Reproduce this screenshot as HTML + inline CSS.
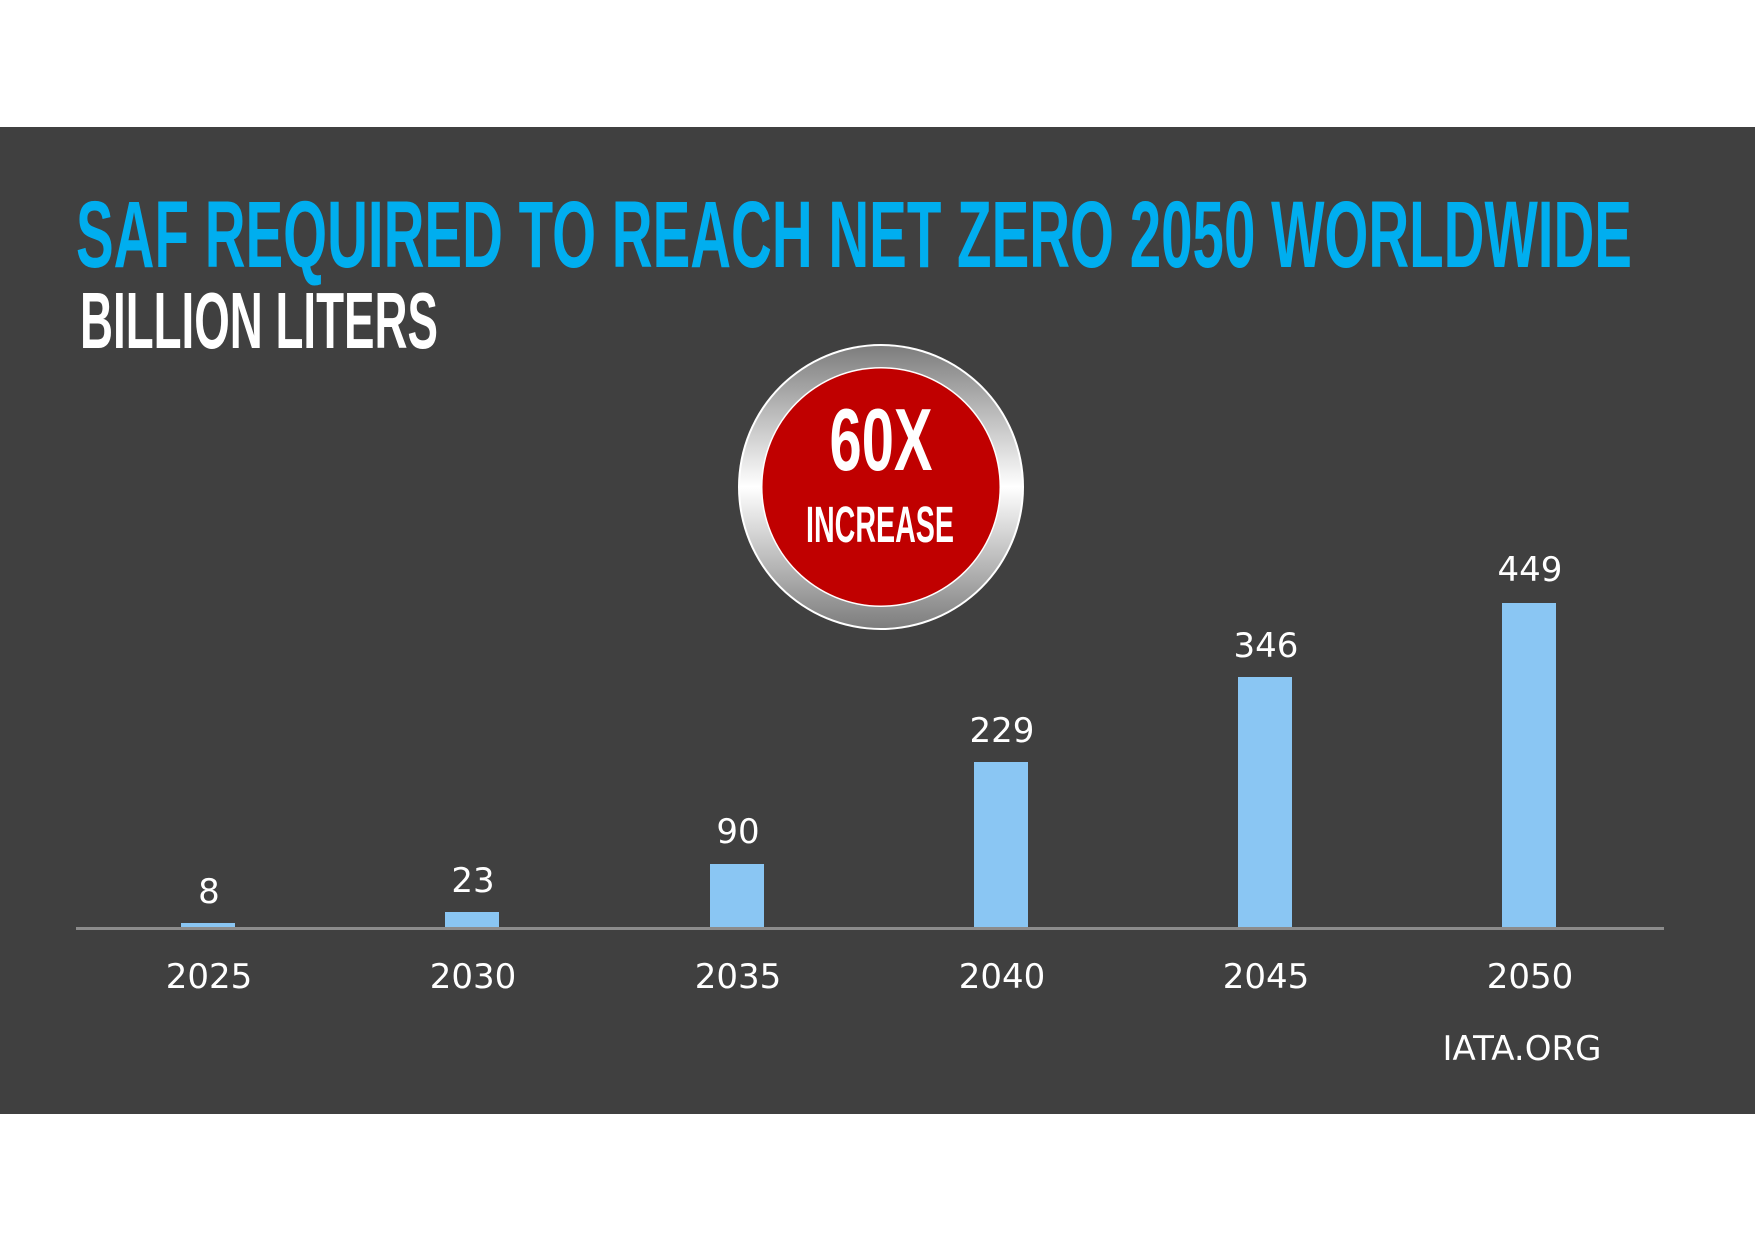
<!DOCTYPE html>
<html><head><meta charset="utf-8"><style>
html,body{margin:0;padding:0;background:#fff;}
svg{display:block;}
</style></head><body>
<svg width="1755" height="1241" viewBox="0 0 1755 1241" xmlns="http://www.w3.org/2000/svg">
<defs>
<linearGradient id="ring" x1="0" y1="0" x2="0" y2="1">
<stop offset="0" stop-color="#7d7d7d"/>
<stop offset="0.5" stop-color="#ffffff"/>
<stop offset="1" stop-color="#7d7d7d"/>
</linearGradient>
</defs>
<rect x="0" y="0" width="1755" height="1241" fill="#ffffff"/>
<rect x="0" y="127" width="1755" height="987" fill="#404040"/>
<text x="76" y="267" font-family="'Liberation Sans Narrow','Liberation Sans',sans-serif" font-weight="bold" font-size="95" fill="#00aeef" textLength="1556" lengthAdjust="spacingAndGlyphs">SAF REQUIRED TO REACH NET ZERO 2050 WORLDWIDE</text>
<text x="80" y="348" font-family="'Liberation Sans Narrow','Liberation Sans',sans-serif" font-weight="bold" font-size="80" fill="#ffffff" textLength="358" lengthAdjust="spacingAndGlyphs">BILLION LITERS</text>
<circle cx="881" cy="487" r="143" fill="#ffffff"/>
<circle cx="881" cy="487" r="141" fill="url(#ring)"/>
<circle cx="881" cy="487" r="120" fill="#ffffff"/>
<circle cx="881" cy="487" r="118.5" fill="#c00000"/>
<text x="881" y="470" text-anchor="middle" font-family="'Liberation Sans Narrow','Liberation Sans',sans-serif" font-weight="bold" font-size="88" fill="#ffffff" textLength="103" lengthAdjust="spacingAndGlyphs">60X</text>
<text x="880" y="542" text-anchor="middle" font-family="'Liberation Sans Narrow','Liberation Sans',sans-serif" font-weight="bold" font-size="51" fill="#ffffff" textLength="148" lengthAdjust="spacingAndGlyphs">INCREASE</text>
<g fill="#8ac6f3">
<rect x="181" y="923" width="54" height="5"/>
<rect x="445" y="912" width="54" height="16"/>
<rect x="710" y="864" width="54" height="64"/>
<rect x="974" y="762" width="54" height="166"/>
<rect x="1238" y="677" width="54" height="251"/>
<rect x="1502" y="603" width="54" height="325"/>
</g>
<rect x="76" y="927" width="1588" height="3" fill="#8c8c8c"/>
<g font-family="'DejaVu Sans','Liberation Sans',sans-serif" font-size="34" fill="#ffffff" text-anchor="middle">
<text x="209" y="903">8</text>
<text x="473" y="892">23</text>
<text x="738" y="843">90</text>
<text x="1002" y="742">229</text>
<text x="1266" y="657">346</text>
<text x="1530" y="581">449</text>
<text x="209" y="988">2025</text>
<text x="473" y="988">2030</text>
<text x="738" y="988">2035</text>
<text x="1002" y="988">2040</text>
<text x="1266" y="988">2045</text>
<text x="1530" y="988">2050</text>
<text x="1522" y="1060">IATA.ORG</text>
</g>
</svg>
</body></html>
